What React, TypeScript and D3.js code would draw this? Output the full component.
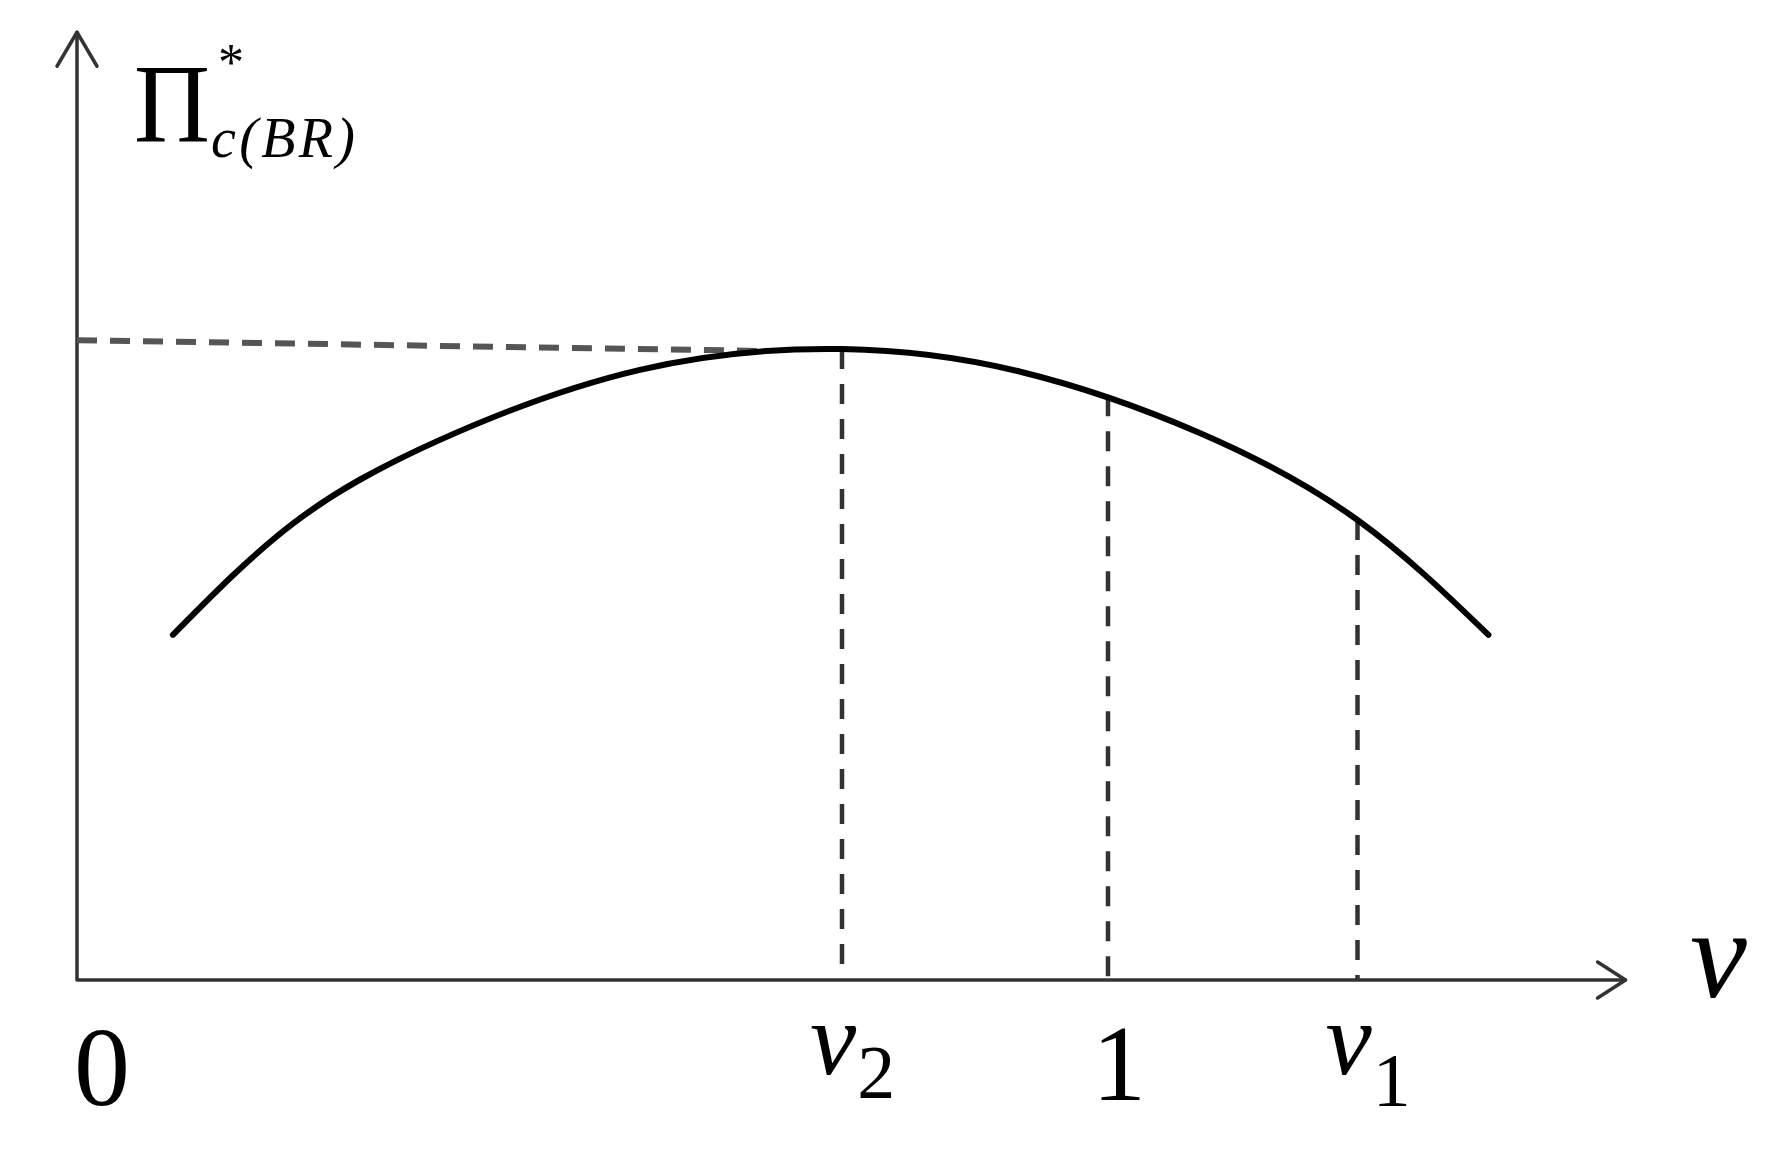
import React from "react";
import * as d3 from "d3";

// curve: v on the x axis, profit scaled so the peak is 1
const curveV = [0.093, 0.21, 0.352, 0.546, 0.742, 0.915, 1.089, 1.242, 1.369];
const curveProfit = [0.547, 0.724, 0.856, 0.967, 1.0, 0.964, 0.867, 0.729, 0.547];

// marked points on the v axis
const markV = [0.742, 1.0, 1.242];
const markProfit = [1.0, 0.925, 0.729];
const markNames = ["v", "1", "v"];
const markSubs = ["2", "", "1"];

// horizontal guide from the y axis to the peak
const guideV = [0, 0.66];
const guideProfit = [1.014, 0.997];

const axisMaxV = 1.502;
const axisMaxProfit = 1.502;

const W = 1782;
const H = 1164;
const FONT = "'Liberation Serif', 'Times New Roman', serif";

export default function App() {
  const x = d3.scaleLinear().domain([0, 1]).range([77, 1108]);
  const y = d3.scaleLinear().domain([0, 1]).range([980, 349]);

  const pts: [number, number][] = curveV.map((v, i) => [v, curveProfit[i]]);
  const line = d3
    .line<[number, number]>()
    .x((d) => x(d[0]))
    .y((d) => y(d[1]))
    .curve(d3.curveNatural);

  const x0 = x(0);
  const y0 = y(0);
  const xEnd = x(axisMaxV);
  const yTop = y(axisMaxProfit);

  return (
    <div style={{ position: "absolute", left: 0, top: 0 }}>
      <svg width={W} height={H} style={{ display: "block", background: "#fff" }}>
        {/* axes */}
        <g stroke="#333" strokeWidth={3.5} fill="none" strokeLinecap="round" strokeLinejoin="round">
          <path d={`M${x0},${yTop} L${x0},${y0} L${xEnd},${y0}`} />
          <path d={`M${x0 - 20},${yTop + 34} L${x0},${yTop} L${x0 + 20},${yTop + 34}`} />
          <path d={`M${xEnd - 28},${y0 - 18} L${xEnd},${y0} L${xEnd - 28},${y0 + 18}`} />
        </g>

        {/* dashed guides */}
        <line
          x1={x(guideV[0])}
          y1={y(guideProfit[0])}
          x2={x(guideV[1])}
          y2={y(guideProfit[1])}
          stroke="#555"
          strokeWidth={6}
          strokeDasharray="20 13"
        />
        {markV.map((v, i) => (
          <line
            key={i}
            x1={x(v)}
            y1={y(markProfit[i])}
            x2={x(v)}
            y2={y0}
            stroke="#333"
            strokeWidth={4.5}
            strokeDasharray="20 15"
          />
        ))}

        {/* the curve */}
        <path d={line(pts) || ""} fill="none" stroke="#000" strokeWidth={6} strokeLinecap="round" />

        {/* labels */}
        <g fontFamily={FONT} fill="#000">
          <text x={x0 + 25} y={1105} fontSize={112} textAnchor="middle">0</text>
          {markV.map((v, i) => {
            const cx = x(v);
            if (!markSubs[i]) {
              return (
                <text key={i} x={cx + 11} y={1100} fontSize={108} textAnchor="middle">{markNames[i]}</text>
              );
            }
            return (
              <text key={i} x={cx - 32} y={1074} fontSize={104}>
                <tspan fontStyle="italic">{markNames[i]}</tspan>
                <tspan fontSize={76} dx={1} dy={markSubs[i] === "2" ? 24 : 32}>{markSubs[i]}</tspan>
              </text>
            );
          })}
          <text x={1690} y={997} fontSize={128} fontStyle="italic">v</text>

          <text x={134} y={142} fontSize={112} textLength={76} lengthAdjust="spacingAndGlyphs">Π</text>
          <text x={218} y={80} fontSize={52}>*</text>
          <text x={211} y={157} fontSize={56} fontStyle="italic" textLength={144} lengthAdjust="spacing">c(BR)</text>
        </g>
      </svg>
    </div>
  );
}
